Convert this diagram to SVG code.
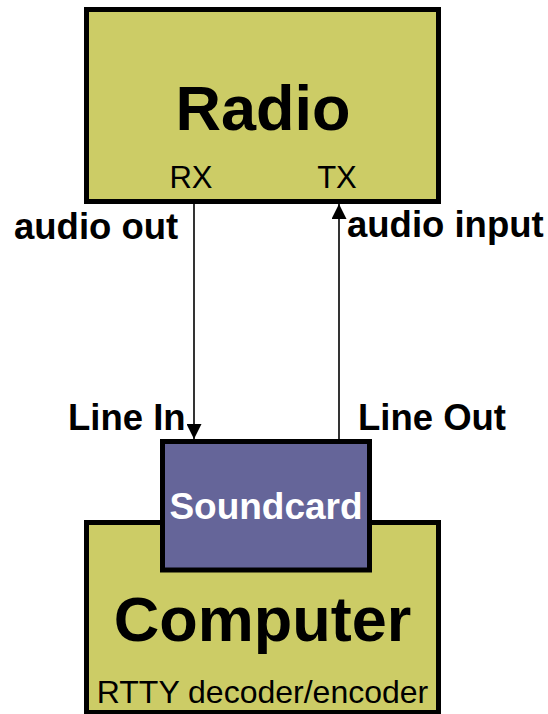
<svg xmlns="http://www.w3.org/2000/svg" width="548" height="714" viewBox="0 0 548 714">
<style>
.box{fill:#cccc66;stroke:#000;stroke-width:5}
.card{fill:#656599;stroke:#000;stroke-width:5}
.big{font-family:"Liberation Sans",Arial,sans-serif;font-weight:bold;font-size:63px;fill:#000;text-anchor:middle}
.port{font-family:"Liberation Sans",Arial,sans-serif;font-size:31px;fill:#000;text-anchor:middle}
.lbl{font-family:"Liberation Sans",Arial,sans-serif;font-weight:bold;font-size:36.5px;fill:#000}
.wire{stroke:#000;stroke-width:1.6;fill:none}
</style>
<defs>
<marker id="ah" viewBox="0 0 10 10" refX="10" refY="5" markerWidth="15" markerHeight="15" markerUnits="userSpaceOnUse" orient="auto">
<path d="M0,0 L10,5 L0,10 Z" fill="#000"/>
</marker>
</defs>
<g id="radio">
<rect class="box" x="86.5" y="9.5" width="352" height="192"/>
<text class="big" x="263" y="130">Radio</text>
<text class="port" x="191" y="188">RX</text>
<text class="port" x="337" y="188">TX</text>
</g>
<g id="computer">
<rect class="box" x="86.5" y="522.5" width="352" height="190"/>
<text class="big" x="262.5" y="641">Computer</text>
<text class="port" x="262.5" y="703" style="font-size:32px">RTTY decoder/encoder</text>
</g>
<g id="soundcard">
<rect class="card" x="162.5" y="441.5" width="207" height="128.5"/>
<text x="266" y="519" font-family="Liberation Sans, Arial, sans-serif" font-weight="bold" font-size="37" fill="#fff" text-anchor="middle">Soundcard</text>
</g>
<g id="connectors">
<line class="wire" x1="194" y1="204" x2="194" y2="439" marker-end="url(#ah)"/>
<line class="wire" x1="339" y1="439" x2="339" y2="204" marker-end="url(#ah)"/>
</g>
<g id="labels">
<text class="lbl" x="14" y="239">audio out</text>
<text class="lbl" x="347" y="237">audio input</text>
<text class="lbl" x="68" y="430">Line In</text>
<text class="lbl" x="358" y="430">Line Out</text>
</g>
</svg>
